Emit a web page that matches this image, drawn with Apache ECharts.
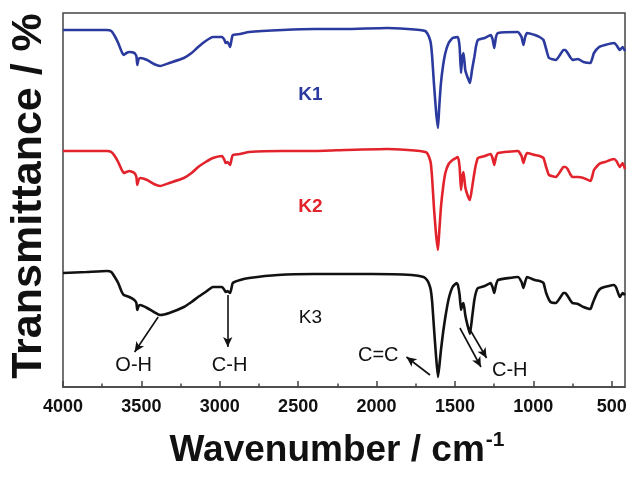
<!DOCTYPE html>
<html>
<head>
<meta charset="utf-8">
<script src="https://cdn.jsdelivr.net/npm/echarts@6/dist/echarts.min.js"></script>
<style>
  html, body { margin: 0; padding: 0; background: #fff; }
  #canvas_ftir { width: 630px; height: 477px; }
</style>
</head>
<body>
<div id="canvas_ftir"></div>
<script>
// FTIR spectra, [wavenumber, transmittance (offset, arbitrary units)]
var k1_data = [
    [4000,357],[3850,357],[3720,357],[3692,356],[3670,351],[3648,344],[3625,335],[3612,332],[3595,334],[3577,335],
    [3545,334],[3532,331],[3526,322],[3518,328],[3507,329],[3463,327],[3420,323],[3380,321],[3322,324],[3229,329],
    [3180,334],[3138,340],[3090,346],[3044,350],[2986,350],[2970,347],[2963,344],[2950,345],[2934,340],[2925,347],
    [2917,352],[2870,353],[2813,355],[2600,357],[2395,358],[2200,358],[1933,359],[1800,358],[1723,357],[1690,356],
    [1678,354],[1665,350],[1654,344],[1645,330],[1634,304],[1620,275],[1608,259],[1600,280],[1589,304],[1575,322],
    [1561,334],[1540,344],[1515,349],[1481,350],[1470,340],[1461,314],[1453,330],[1445,334],[1434,317],[1420,310],
    [1404,304],[1390,318],[1376,330],[1365,341],[1353,347],[1310,349],[1272,352],[1260,348],[1249,339],[1238,350],
    [1225,354],[1098,355],[1075,350],[1063,342],[1052,350],[1040,354],[990,352],[960,350],[935,347],[918,338],
    [900,329],[855,327],[830,332],[808,337],[795,337],[781,334],[765,330],[750,327],[715,328],[680,325],
    [635,324],[625,328],[613,334],[580,340],[543,342],[486,344],[470,342],[448,337],[430,340],[415,336]
];
var k2_data = [
    [4000,236],[3850,236],[3720,236],[3692,235],[3670,231],[3648,225],[3625,217],[3612,214],[3595,215],[3577,216],
    [3545,214],[3532,210],[3526,202],[3518,207],[3507,209],[3463,207],[3420,203],[3380,201],[3322,204],[3229,209],
    [3180,214],[3138,220],[3090,225],[3044,229],[2986,231],[2970,227],[2963,224],[2950,225],[2934,222],[2925,228],
    [2917,232],[2870,233],[2813,235],[2600,236],[2395,236],[2200,237],[1933,238],[1800,237],[1723,236],[1690,235],
    [1678,234],[1665,230],[1654,224],[1645,208],[1634,180],[1620,152],[1608,137],[1600,155],[1589,180],[1575,200],
    [1561,214],[1540,223],[1515,227],[1481,230],[1470,220],[1461,197],[1453,210],[1445,215],[1434,200],[1420,192],
    [1404,187],[1390,200],[1376,214],[1365,223],[1353,229],[1310,231],[1272,233],[1260,229],[1249,222],[1238,230],
    [1225,234],[1098,236],[1075,231],[1063,224],[1052,230],[1040,234],[990,232],[960,231],[935,229],[918,220],
    [900,212],[855,210],[830,215],[808,220],[795,220],[781,218],[765,213],[750,210],[715,210],[680,209],
    [635,206],[625,210],[613,217],[580,223],[543,225],[486,228],[470,226],[448,220],[430,224],[415,218]
];
var k3_data = [
    [4000,114],[3850,115],[3720,116],[3692,115],[3670,110],[3648,104],[3625,95],[3612,92],[3595,91],[3577,90],
    [3545,87],[3532,84],[3526,77],[3518,81],[3507,82],[3463,79],[3420,75],[3380,72],[3322,74],[3229,80],
    [3180,85],[3138,90],[3090,95],[3044,100],[2986,100],[2970,97],[2963,95],[2950,96],[2934,94],[2925,99],
    [2917,104],[2870,107],[2813,109],[2630,112],[2400,113],[2028,113],[1775,112],[1700,110],[1678,107],[1665,103],
    [1654,97],[1645,85],[1634,60],[1620,30],[1608,10],[1600,20],[1589,37],[1575,55],[1561,70],[1540,88],
    [1515,100],[1489,104],[1481,102],[1470,92],[1461,77],[1453,82],[1445,84],[1434,72],[1420,62],[1404,53],
    [1390,70],[1376,87],[1365,95],[1353,99],[1310,101],[1272,104],[1260,100],[1249,94],[1238,102],[1225,107],
    [1098,110],[1075,105],[1063,99],[1052,105],[1040,110],[990,107],[960,106],[935,104],[918,94],[890,85],
    [855,84],[830,89],[808,94],[795,94],[781,91],[765,87],[750,84],[715,83],[680,80],[635,78],
    [625,82],[613,87],[590,95],[565,99],[486,102],[470,99],[448,90],[430,94],[415,92]
];

var x_major_ticks = [500, 1000, 1500, 2000, 2500, 3000, 3500, 4000];
var x_minor_ticks = [750, 1250, 1750, 2250, 2750, 3250, 3750];

// sample names and where they sit
var sample_names = ['K1', 'K2', 'K3'];
var sample_label_pos = [[2422, 292], [2422, 180], [2422, 69]];

// band assignments: text + anchor, arrows from -> to
var band_names = ['O-H', 'C-H', 'C=C', 'C-H'];
var band_label_pos = [[3549, 22], [2937, 22], [1989, 32], [1150, 17]];
var band_arrows = [
    [[3393, 70], [3543, 35]],
    [[2949, 92], [2949, 40]],
    [[1659, 12], [1809, 30]],
    [[1468, 59], [1334, 20]],
    [[1421, 62], [1298, 29]]
];

var FONT = '"Liberation Sans", Arial, sans-serif';
var colors = ['#2b3a9e', '#e3232b', '#111111'];

var chart_ftir = echarts.init(document.getElementById('canvas_ftir'));

function make_line(name, data, color){
    return {
        name: name,
        type: 'line',
        data: data,
        symbol: 'none',
        smooth: 0.15,
        lineStyle: { color: color, width: 2.6 },
        z: 3
    };
}

var k3_series = make_line('K3', k3_data, colors[2]);
k3_series.markLine = {
    silent: true,
    symbol: ['none', 'arrow'],
    symbolSize: [7, 10],
    lineStyle: { color: '#111', width: 1.6, type: 'solid' },
    label: { show: false },
    data: band_arrows.map(function(a){
        return [{ coord: a[0] }, { coord: a[1] }];
    })
};

var sample_points = sample_names.map(function(n, i){
    return {
        value: sample_label_pos[i],
        label: {
            formatter: n,
            color: colors[i],
            fontWeight: i == 2 ? 'normal' : 'bold'
        }
    };
});
var band_points = band_names.map(function(n, i){
    return { value: band_label_pos[i], label: { formatter: n } };
});

var option_ftir = {
    animation: false,
    backgroundColor: '#fff',
    grid: {
        left: 63, right: 5, top: 13, bottom: 90,
        show: true,
        borderColor: '#444',
        borderWidth: 1.5
    },
    xAxis: [
        {
            type: 'value',
            min: 415, max: 4000,
            inverse: true,
            position: 'bottom',
            splitLine: { show: false },
            axisLine: { show: true, lineStyle: { color: '#444', width: 1.5 } },
            axisTick: { show: true, inside: true, length: 6, customValues: x_major_ticks,
                        lineStyle: { color: '#444', width: 1.5 } },
            axisLabel: {
                customValues: x_major_ticks,
                formatter: function(v){ return String(v); },
                margin: 11,
                color: '#111',
                fontSize: 18,
                fontWeight: 'bold',
                fontFamily: FONT
            },
            name: '{main|Wavenumber / cm}{sup|-1}',
            nameLocation: 'middle',
            nameGap: 43,
            nameTextStyle: {
                rich: {
                    main: { fontSize: 37, fontWeight: 'bold', fontFamily: FONT, color: '#111', lineHeight: 42 },
                    sup: { fontSize: 21, fontWeight: 'bold', fontFamily: FONT, color: '#111',
                           verticalAlign: 'top', lineHeight: 20, padding: [0, 14, 0, 1] }
                }
            }
        },
        {
            type: 'value',
            min: 415, max: 4000,
            inverse: true,
            position: 'bottom',
            splitLine: { show: false },
            axisLine: { show: false },
            axisTick: { show: true, inside: true, length: 3.5, customValues: x_minor_ticks,
                        lineStyle: { color: '#444', width: 1.5 } },
            axisLabel: { show: false }
        }
    ],
    yAxis: {
        type: 'value',
        min: 0, max: 374,
        splitLine: { show: false },
        axisLine: { show: false },
        axisTick: { show: false },
        axisLabel: { show: false },
        name: 'Transmittance / %',
        nameLocation: 'middle',
        nameGap: 12,
        nameTextStyle: { fontSize: 43, fontWeight: 'bold', fontFamily: FONT, color: '#111', padding: [0, 0, 0, 8] }
    },
    series: [
        make_line('K1', k1_data, colors[0]),
        make_line('K2', k2_data, colors[1]),
        k3_series,
        {
            name: 'samples',
            type: 'scatter',
            symbolSize: 0,
            silent: true,
            itemStyle: { opacity: 1 },
            data: sample_points,
            label: { show: true, position: 'inside', fontSize: 19, fontFamily: FONT }
        },
        {
            name: 'bands',
            type: 'scatter',
            symbolSize: 0,
            silent: true,
            itemStyle: { opacity: 1 },
            data: band_points,
            label: { show: true, position: 'inside', fontSize: 20, fontFamily: FONT, color: '#111' }
        }
    ]
};

chart_ftir.setOption(option_ftir);
</script>
</body>
</html>
